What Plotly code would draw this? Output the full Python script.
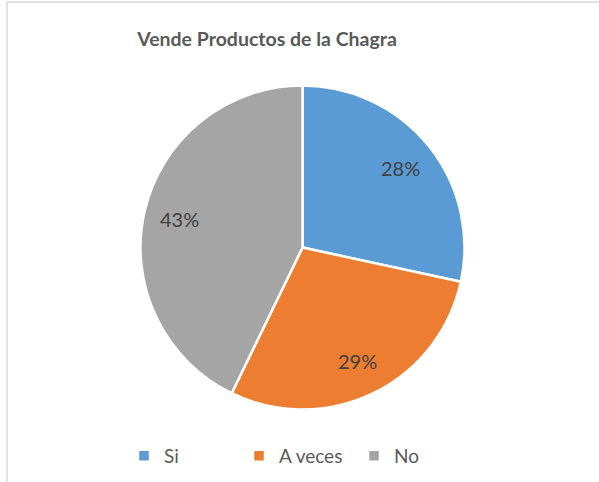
import math
import plotly.graph_objects as go

categories = ["Si", "A veces", "No"]
values = [28.4, 28.8, 42.8]
colors = ["#5B9BD5", "#ED7D31", "#A5A5A5"]
title_text = "Vende Productos de la Chagra"

W, H = 599, 482
cx, cy, r = 302.5, 247.5, 162

fig = go.Figure(go.Pie(
    labels=categories,
    values=values,
    sort=False,
    direction="clockwise",
    rotation=0,
    marker=dict(colors=colors, line=dict(color="white", width=2.5)),
    textinfo="none",
    hoverinfo="label+percent",
    domain=dict(x=[(cx - r) / W, (cx + r) / W], y=[1 - (cy + r) / H, 1 - (cy - r) / H]),
))

# data labels placed along each slice's mid-angle (Excel-style)
total = sum(values)
cum = 0.0
annotations = []
for v in values:
    mid = (cum + v / 2) / total * 2 * math.pi
    cum += v
    px = cx + 0.78 * r * math.sin(mid)
    py = cy - 0.78 * r * math.cos(mid)
    annotations.append(dict(x=px / W, y=1 - py / H, xref="paper", yref="paper",
                            text=f"{round(v / total * 100)}%", showarrow=False,
                            xanchor="center", yanchor="middle",
                            font=dict(family="Lato", size=20, color="#404040")))

fig.update_layout(
    width=W, height=H,
    margin=dict(l=0, r=0, t=0, b=0),
    paper_bgcolor="white",
    title=dict(text="<b>" + title_text + "</b>", x=267 / W, xanchor="center",
               y=1 - 39 / H, yanchor="middle",
               font=dict(family="Lato", size=19.5, color="#595959")),
    legend=dict(orientation="h", x=124 / W, xanchor="left", y=1 - 456 / H, yanchor="middle",
                font=dict(family="Lato", size=19, color="#595959"),
                entrywidth=70, entrywidthmode="pixels", itemwidth=30),
    annotations=annotations,
    shapes=[dict(type="rect", xref="paper", yref="paper",
                 x0=7 / W, x1=1.2, y0=-0.2, y1=1 - 2 / H,
                 line=dict(color="#D9D9D9", width=1.5), fillcolor="rgba(0,0,0,0)")],
)

fig.write_html("out.html", config={"displayModeBar": False},
               post_script="document.body.style.margin='0';")
